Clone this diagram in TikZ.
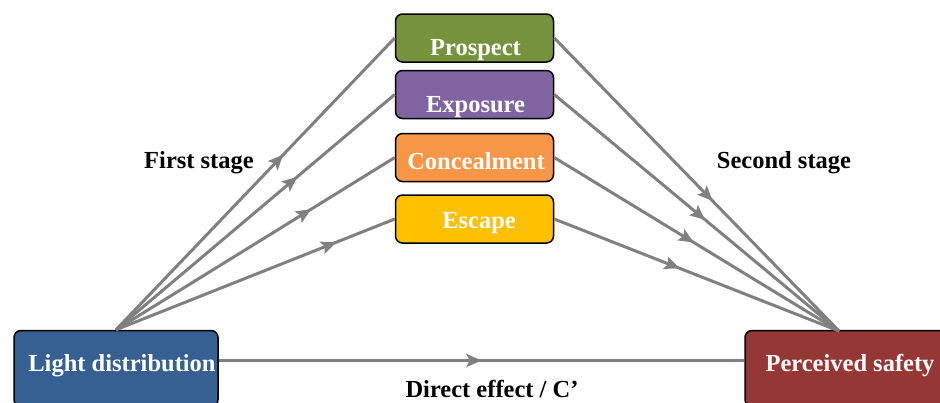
\documentclass[tikz,border=0pt]{standalone}
\usepackage{fontspec}
\setmainfont{Liberation Serif}
\usetikzlibrary{arrows.meta,decorations.markings}
\definecolor{prospectgreen}{HTML}{76923C}
\definecolor{exposurepurple}{HTML}{8064A2}
\definecolor{concealorange}{HTML}{F79646}
\definecolor{escapeyellow}{HTML}{FFC000}
\definecolor{lightblue}{HTML}{376092}
\definecolor{safetyred}{HTML}{953735}
\definecolor{linkgray}{HTML}{808080}
\tikzset{
    bigfont/.style={font=\bfseries\fontsize{24.5}{29}\selectfont},
    box/.style={draw=black,line width=1.5pt,rounded corners=7pt},
    boxtext/.style={bigfont,text=white,inner sep=0pt},
    link/.style={draw=linkgray,line width=3pt},
    midarrow/.style={postaction={decorate},decoration={markings,
        mark=at position #1 with {\arrow{Stealth[length=15pt,width=13pt,inset=3pt]}}}}
}
\begin{document}
\begin{tikzpicture}[x=1pt,y=-1pt]
    \useasboundingbox (0,0) rectangle (940,402);
    \clip (0,0) rectangle (940,402);
    % Ends
        % Predictor
        \node[box,fill=lightblue,minimum width=204,minimum height=76,
            label={[boxtext,xshift=6,yshift=2.5]center:Light distribution}] (light) at (116,368.5) {};
        % Outcome
        \node[box,fill=safetyred,minimum width=204,minimum height=76,
            label={[boxtext,xshift=3,yshift=2.5]center:Perceived safety}] (safety) at (847,368.5) {};
        \coordinate (safetop) at (839,331);
    % Mediators
        \foreach \n/\t/\c/\y/\dx/\dy/\pl/\pr in {
            prospect/Prospect/prospectgreen/38/1/-12.5/0.6/0.556,
            exposure/Exposure/exposurepurple/94.5/1/-13/0.65/0.53,
            conceal/Concealment/concealorange/157.5/1.5/-3.5/0.7/0.49,
            escape/Escape/escapeyellow/219/4.5/-4/0.79/0.44}{
            \node[box,fill=\c,minimum width=158,minimum height=48,
                label={[boxtext,xshift=\dx,yshift=\dy]center:\t}] (\n) at (474.5,\y) {};
            \draw[link,midarrow=\pl] (light.north) -- (\n.west);
            \draw[link,midarrow=\pr] (\n.east) -- (safetop);
        }
    % Direct path
        \draw[link,midarrow=0.5] ([yshift=8]light.east) -- ([yshift=8]safety.west)
            node[bigfont,pos=0.52,yshift=-28.5] (direct) {Direct effect / C’};
    % Labels
        \node[bigfont] (first) at (199,163) {First stage};
        \node[bigfont] (second) at (784,163) {Second stage};
\end{tikzpicture}
\end{document}
